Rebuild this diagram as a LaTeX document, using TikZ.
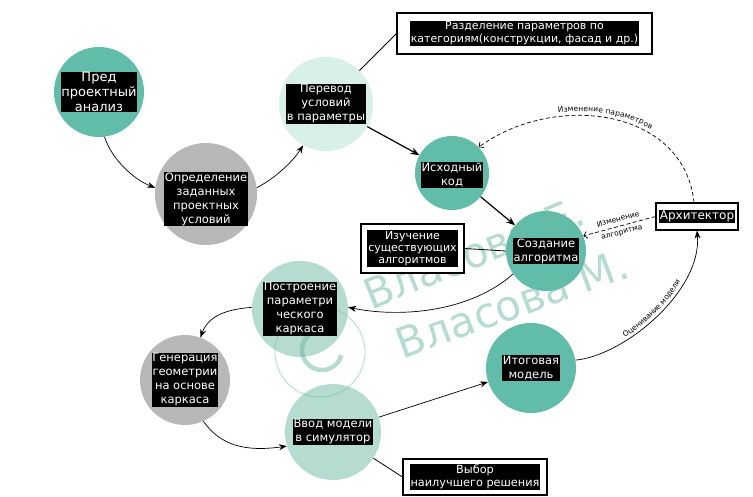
\documentclass[tikz,border=0pt]{standalone}
\usepackage{fontspec}
\setmainfont{DejaVu Sans}
\usetikzlibrary{arrows.meta,decorations.text}
\definecolor{cteal}{HTML}{62BCAA}
\definecolor{cgray}{HTML}{B9B8B9}
\definecolor{cmint}{HTML}{D9EFEA}
\definecolor{clteal}{HTML}{B6DBD1}
\definecolor{cwm}{HTML}{6DB9A3}
\begin{document}
\begin{tikzpicture}[x=1pt,y=-1pt,
  circ/.style={circle, draw=none, inner sep=0pt},
  lbl/.style={fill=black, text=white, align=center, inner sep=0.6pt, font=\fontsize{11.5}{14}\selectfont},
  blbl/.style={fill=black, text=white, align=center, inner sep=0.8pt, font=\fontsize{11}{13}\selectfont},
  obox/.style={draw=black, line width=1.1pt, fill=white, inner sep=0pt},
  arr/.style={-{Stealth[length=8pt,width=6pt]}, line width=0.7pt},
  tarr/.style={-{Stealth[length=9pt,width=7pt]}, line width=1.2pt},
  darr/.style={dash pattern=on 4pt off 2.5pt, -{Straight Barb[length=3.5pt,width=7pt]}, line width=0.7pt},
  plain/.style={line width=0.8pt},
  small/.style={font=\fontsize{7.5}{8.5}\selectfont},
  wm/.style={text=cwm, opacity=0.5, font=\fontsize{42}{42}\selectfont}
]
\useasboundingbox (0,0) rectangle (753,497);
% circles
\node[circ, fill=cteal,  minimum size=90pt]  (c1) at (99,92) {};
\node[circ, fill=cgray,  minimum size=102pt] (c2) at (206,194) {};
\node[circ, fill=cmint,  minimum size=94pt]  (c3) at (326,104) {};
\node[circ, fill=cteal,  minimum size=74pt]  (c4) at (452,173) {};
\node[circ, fill=cteal,  minimum size=80pt]  (c5) at (546,251) {};
\node[circ, fill=clteal, minimum size=96pt]  (c6) at (300,309) {};
\node[circ, fill=cgray,  minimum size=90pt]  (c7) at (185,380) {};
\node[circ, fill=clteal, minimum size=96pt]  (c8) at (333,432) {};
\node[circ, fill=cteal,  minimum size=90pt]  (c9) at (531,368) {};
% watermark
\node[wm, rotate=22] (wm1) at (474,253) {Власова Е.};
\node[wm, rotate=20] (wm2) at (512,304) {Власова М.};
\draw[cwm, opacity=0.5, line width=0.9pt] (320,352) circle[radius=45];
\draw[cwm, opacity=0.5, line width=4.5pt] (320.3,330.1) arc[start angle=-95, end angle=-345, radius=20];
% circle texts
\node[lbl, font=\fontsize{13}{15}\selectfont] (t1) at (c1) {Пред\\проектный\\анализ};
\node[lbl] (t2) at ([yshift=-5pt]c2) {Определение\\заданных\\проектных\\условий};
\node[lbl] (t3) at (c3) {Перевод\\условий\\в параметры};
\node[lbl] (t4) at ([yshift=-2pt]c4) {Исходный\\код};
\node[lbl] (t5) at (c5) {Создание\\алгоритма};
\node[lbl] (t6) at (c6) {Построение\\параметри\\ческого\\каркаса};
\node[lbl] (t7) at (c7) {Генерация\\геометрии\\на основе\\каркаса};
\node[lbl] (t8) at (c8) {Ввод модели\\в симулятор};
\node[lbl] (t9) at (c9) {Итоговая\\модель};
% boxes
\node[obox, minimum width=255pt, minimum height=41pt] (b1) at (524.5,33.5) {};
\node[blbl] (tb1) at (b1) {Разделение параметров по\\категориям(конструкции, фасад и др.)};
\node[obox, minimum width=103pt, minimum height=49pt] (b2) at (412.5,248.5) {};
\node[blbl, font=\fontsize{11}{12.3}\selectfont] (tb2) at (b2) {Изучение\\существующих\\алгоритмов};
\node[obox, minimum width=82pt, minimum height=27pt] (b3) at (697,216.5) {};
\node[blbl, font=\fontsize{12}{13}\selectfont] (tb3) at (b3) {Архитектор};
\node[obox, minimum width=144pt, minimum height=36pt] (b4) at (475,477) {};
\node[blbl, font=\fontsize{11.3}{13}\selectfont] (tb4) at (b4) {Выбор\\наилучшего решения};
% connectors
\draw[arr] (c1.-83) .. controls +(7.5,23.3) and +(-20.4,-7.8) .. (c2.173);
\draw[arr] (c2.7) .. controls +(15.4,-7.8) and +(-11.2,17.9) .. (c3.241);
\draw[tarr] (c3) -- (c4);
\draw[plain] (c3) -- (b1.west);
\draw[tarr] (c4) -- (c5);
\draw[plain] (b2.east) -- (c5.west);
\draw[arr] (c5.215) .. controls +(-42,37) and +(55,11) .. (c6.2);
\draw[arr] (c6.178) .. controls +(-25,2) and +(8,-22) .. (c7.70);
\draw[arr] (c7.-66) .. controls +(17,24) and +(-42,6) .. (c8.197);
\draw[arr] (c8) -- (c9);
\draw[plain] (c8) -- (b4.west);
\draw[arr] (c9.10) .. controls +(50,-5) and +(5,60) .. (b3.south);
\path[decorate, decoration={text along path, text align=center, raise=3pt,
  text={|\fontsize{7.5}{8.5}\selectfont|Оценивание модели}}]
  (c9.10) .. controls +(50,-5) and +(5,60) .. (b3.south);
\draw[darr] (b3.west) -- (c5.22);
\node[small, rotate=15] (l1) at (618,219) {Изменение};
\node[small, rotate=15] (l2) at (622,233) {алгоритма};
\draw[darr] ([xshift=-3pt]b3.north) .. controls +(-10,-95) and +(75,-55) .. (c4.44);
\path[decorate, decoration={text along path, text align=center, raise=4pt,
  text={|\fontsize{7.5}{8.5}\selectfont|Изменение параметров}}]
  (c4.44) .. controls +(75,-55) and +(-10,-95) .. ([xshift=-3pt]b3.north);
\end{tikzpicture}
\end{document}
